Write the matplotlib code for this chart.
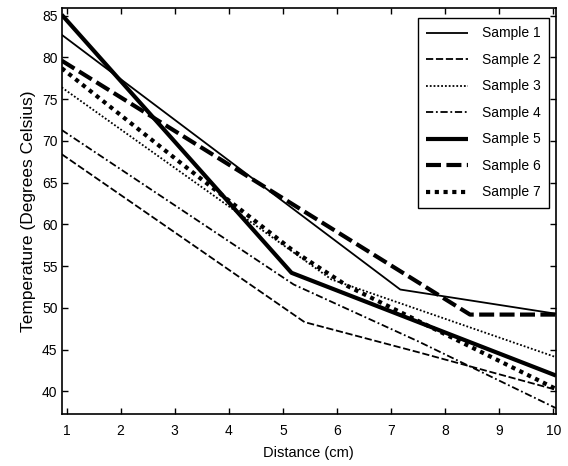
import matplotlib
matplotlib.use("Agg")
import matplotlib.pyplot as plt

plt.rcParams['font.family'] = ['Liberation Sans', 'DejaVu Sans']

labels = ["Sample 1", "Sample 2", "Sample 3", "Sample 4", "Sample 5", "Sample 6", "Sample 7"]

x1 = [0.91, 7.17, 10.05]
y1 = [82.7, 52.2, 49.3]
x2 = [0.91, 5.4, 7.5, 10.05]
y2 = [68.4, 48.3, 44.7, 40.2]
x3 = [0.91, 5.9, 10.05]
y3 = [76.4, 53.4, 44.1]
x4 = [0.91, 5.2, 7.5, 10.05]
y4 = [71.3, 52.8, 46.0, 38.0]
x5 = [0.91, 5.16, 10.05]
y5 = [85.1, 54.2, 41.9]
x6 = [0.91, 8.46, 10.05]
y6 = [79.6, 49.2, 49.2]
x7 = [0.91, 3.2, 5.2, 6.2, 10.05]
y7 = [78.7, 66.9, 56.8, 52.6, 40.3]

xticks = [1, 2, 3, 4, 5, 6, 7, 8, 9, 10]
yticks = [40, 45, 50, 55, 60, 65, 70, 75, 80, 85]

fig = plt.figure(figsize=(5.68, 4.66), dpi=100)
ax = fig.add_axes([0.1086, 0.1116, 0.9789 - 0.1086, 0.9828 - 0.1116])

styles = [
    dict(lw=1.3, ls='-'),
    dict(lw=1.3, dashes=(4, 1.5)),
    dict(lw=1.3, dashes=(1, 1.1)),
    dict(lw=1.3, dashes=(4, 1.5, 1, 1.5)),
    dict(lw=3.0, ls='-'),
    dict(lw=3.0, dashes=(3.6, 1.3)),
    dict(lw=3.0, dashes=(1, 1.1)),
]
xs = [x1, x2, x3, x4, x5, x6, x7]
ys = [y1, y2, y3, y4, y5, y6, y7]
for x, y, lab, st in zip(xs, ys, labels, styles):
    ax.plot(x, y, color='black', label=lab, dash_capstyle='butt', solid_capstyle='butt', **st)

ax.set_xlim(0.91, 10.05)
ax.set_ylim(37.3, 85.9)
ax.set_xticks(xticks)
ax.set_yticks(yticks)
ax.tick_params(direction='in', top=True, right=True, length=4, width=1, labelsize=10)
ax.tick_params(axis='x', pad=7)
ax.tick_params(axis='y', pad=3)
for s in ax.spines.values():
    s.set_linewidth(1.2)

ax.set_xlabel("Distance (cm)", fontsize=10.5, labelpad=6)
ax.set_ylabel("Temperature (Degrees Celsius)", fontsize=12.5, labelpad=4)

leg = ax.legend(loc='upper right', bbox_to_anchor=(0.986, 0.975), borderaxespad=0,
                fancybox=False, framealpha=1, edgecolor='black', fontsize=10,
                handlelength=3.0, handletextpad=1.0, labelspacing=0.9, borderpad=0.6)
leg.get_frame().set_linewidth(1.0)

fig.savefig("out.png", dpi=100)
